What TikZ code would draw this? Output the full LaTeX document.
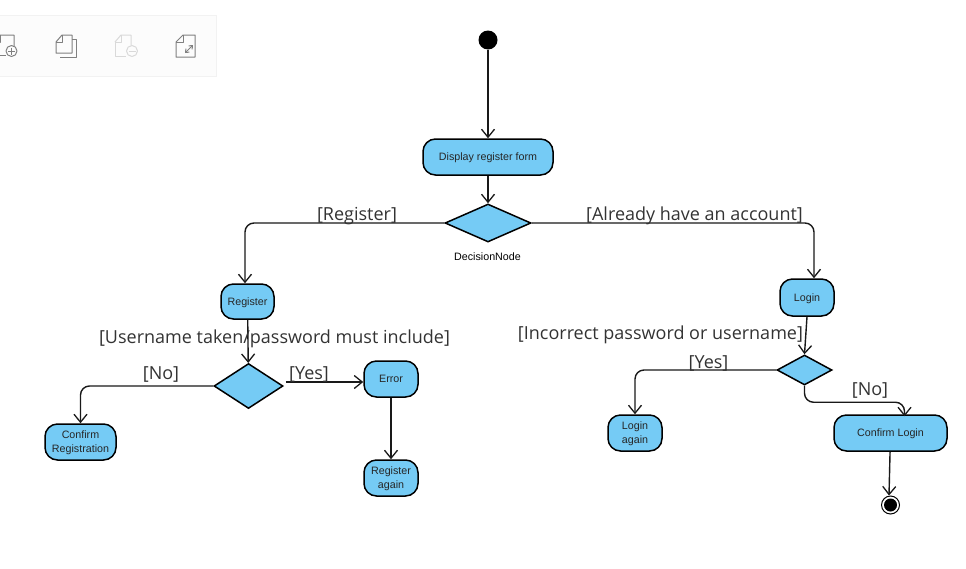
\documentclass[tikz,border=0pt]{standalone}
\usepackage{fontspec}
\setmainfont{Liberation Sans}
\newfontfamily\guardfont{Open Sans}
\usetikzlibrary{arrows.meta,shapes.geometric}
\definecolor{actblue}{HTML}{75CBF5}
\definecolor{guardgray}{HTML}{333333}
\tikzset{
  action/.style={draw=black,line width=1.5pt,fill=actblue,rounded corners=12.5pt,inner sep=0pt,align=center,text depth=0pt,font=\fontsize{10.7}{14}\selectfont,text=black!85},
  decision/.style={draw=black,line width=1.5pt,fill=actblue,diamond,inner sep=0pt},
  flow/.style={line width=1.4pt,black!90,rounded corners=9pt,-{Straight Barb[length=8pt,width=13pt,line width=1.3pt]}},
  guard/.style={inner sep=0pt,text=guardgray,font=\guardfont\fontsize{18}{20}\selectfont},
  icon/.style={line width=1pt,draw=black!50,line join=round},
  iconpale/.style={line width=1pt,draw=black!15,line join=round}
}
\begin{document}
\begin{tikzpicture}[x=1pt,y=-1pt]
\useasboundingbox (0,0) rectangle (966,568);
\clip (0,0) rectangle (966,568);

% toolbar
\draw[draw=black!5,fill=black!1] (-10,15) rectangle (216,76);
\draw[icon] (-4,38) -- (0,35) -- (14,35) -- (14,46);
\draw[icon] (0,55) -- (6,55);
\draw[icon] (0,35) -- (0,42) -- (-4,42);
\draw[icon] (11.5,51) circle (5.5);
\draw[icon] (8,51) -- (15,51);
\draw[icon] (11.5,47.5) -- (11.5,54.5);
\draw[icon] (56,42) -- (62,35) -- (72,35) -- (72,53) -- (56,53) -- cycle;
\draw[icon] (62,35) -- (62,42) -- (56,42);
\draw[icon] (60,57) -- (76,57) -- (76,39) -- (72,39);
\draw[iconpale] (115,42) -- (121,35) -- (131,35) -- (131,45);
\draw[iconpale] (115,42) -- (115,56) -- (126,56);
\draw[iconpale] (121,35) -- (121,42) -- (115,42);
\draw[iconpale] (132,51) circle (5.5);
\draw[iconpale] (128.5,51) -- (135.5,51);
\draw[icon] (176,42) -- (183,35) -- (195,35) -- (195,57) -- (176,57) -- cycle;
\draw[icon] (183,35) -- (183,42) -- (176,42);
\draw[icon,{Straight Barb[length=3pt,width=5pt]}-{Straight Barb[length=3pt,width=5pt]}] (185,53) -- (193,45);

% start and end
\node[circle,fill=black,minimum size=19pt,inner sep=0pt] (start) at (488,40) {};
\node[circle,draw=black,line width=1pt,minimum size=18pt,inner sep=0pt] (finish) at (890.5,505) {};
\node[circle,fill=black,minimum size=13pt,inner sep=0pt] (finishdot) at (finish) {};

% actions
\node[action,minimum width=130pt,minimum height=36pt] (display) at (488,157) {Display register form};
\node[action,minimum width=53pt,minimum height=35pt] (register) at (247.5,301.5) {Register};
\node[action,minimum width=54pt,minimum height=37pt] (login) at (807,297.5) {Login};
\node[action,minimum width=54pt,minimum height=36pt] (error) at (391,379) {Error};
\node[action,minimum width=54pt,minimum height=36pt] (again) at (391,478) {Register\\again};
\node[action,minimum width=71pt,minimum height=36pt] (confirmreg) at (80.5,442) {Confirm\\Registration};
\node[action,minimum width=54pt,minimum height=36pt] (loginagain) at (635,433) {Login\\again};
\node[action,minimum width=113pt,minimum height=36pt] (confirmlogin) at (890.5,433) {Confirm Login};

% decisions
\node[decision,minimum width=86pt,minimum height=38pt] (choice) at (488,223) {};
\node[decision,minimum width=69pt,minimum height=45pt] (taken) at (248.5,386) {};
\node[decision,minimum width=55pt,minimum height=30pt] (check) at (804.5,370) {};
\node[font=\fontsize{10.7}{12}\selectfont,inner sep=0pt] (choicename) at (487.5,257) {DecisionNode};

% flows
\draw[flow] (start) -- (display);
\draw[flow] (display) -- (choice);
\draw[flow] (choice.west) -| ([xshift=-2.5pt]register.north);
\draw[flow] (choice.east) -| ([xshift=7pt]login.north);
\draw[flow] (register) -- (taken);
\draw[flow] (taken.west) -| (confirmreg.north);
\draw[flow] ([xshift=2pt,yshift=-3pt]taken.east |- error.west) -- ([yshift=-3pt]error.west);
\draw[flow] (error) -- (again);
\draw[flow] (login.south) -- (check.north);
\draw[flow] (check.west) -| (loginagain.north);
\draw[flow] (check.south) |- ([xshift=14pt,yshift=12pt]confirmlogin.north) -- ([xshift=14pt,yshift=-2pt]confirmlogin.north);
\draw[flow] (confirmlogin) -- ([xshift=-1.5pt]finish.north);

% guards
\node[guard] (gregister) at (357,216) {[Register]};
\node[guard] (galready) at (694.5,216) {[Already have an account]};
\node[guard] (gusername) at (274.5,339) {[Username taken/password must include]};
\node[guard] (gincorrect) at (660.5,335) {[Incorrect password or username]};
\node[guard] (gno) at (161,374) {[No]};
\node[guard] (gyes) at (309,374) {[Yes]};
\node[guard] (gyestwo) at (708.5,363) {[Yes]};
\node[guard] (gnotwo) at (870,390) {[No]};

\end{tikzpicture}
\end{document}
